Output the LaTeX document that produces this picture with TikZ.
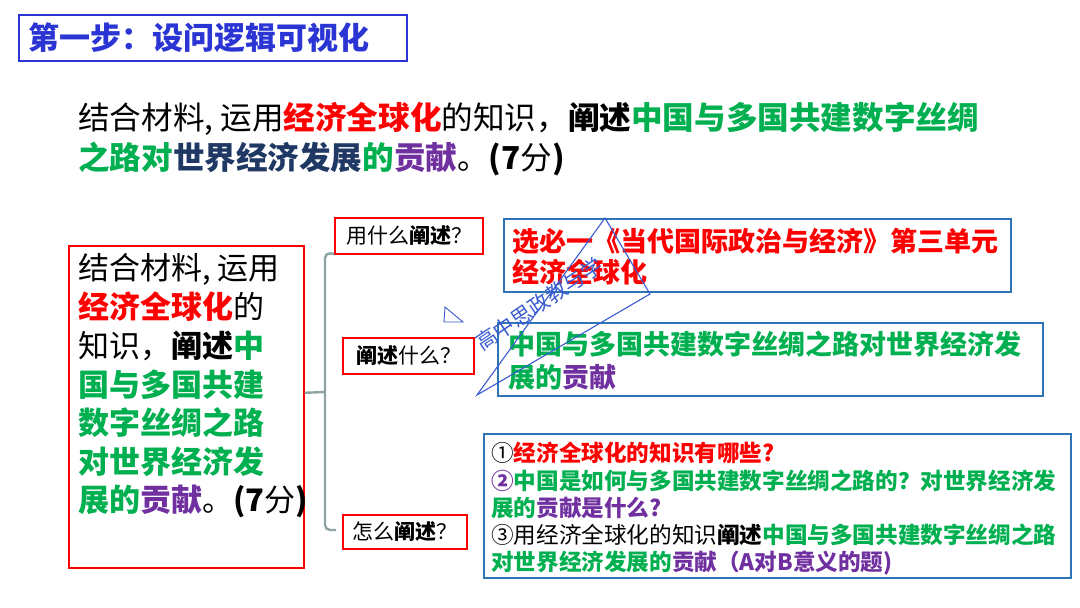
\documentclass[tikz,border=0pt]{standalone}
\usepackage{fontspec}
\setmainfont{Noto Sans CJK SC}
\definecolor{cred}{HTML}{FF0000}
\definecolor{cgreen}{HTML}{00B050}
\definecolor{cpurple}{HTML}{7030A0}
\definecolor{cnavy}{HTML}{1F3864}
\definecolor{ctitle}{HTML}{2B35D4}
\definecolor{cblue}{HTML}{2E75B6}
\definecolor{cgray}{HTML}{8FA3A3}
\definecolor{cwm}{HTML}{3A5CD0}
\newcommand{\fs}[1]{\fontsize{#1}{#1}\selectfont}
\newcommand{\R}[1]{{\bfseries\color{cred}#1}}
\newcommand{\G}[1]{{\bfseries\color{cgreen}#1}}
\newcommand{\Pu}[1]{{\bfseries\color{cpurple}#1}}
\newcommand{\Nv}[1]{{\bfseries\color{cnavy}#1}}
\newcommand{\Bk}[1]{{\bfseries #1}}
\begin{document}
\begin{tikzpicture}[x=1pt,y=-1pt,
  ln/.style={anchor=base west,inner sep=0pt,font=\fs{#1},yshift={-0.38*#1}},
  boxnode/.style={anchor=north west,inner sep=0pt},
  redbox/.style={boxnode,draw=cred,line width=1.6pt},
  bluebox/.style={boxnode,draw=cblue,line width=1.8pt},
  qbox/.style={draw=cred,line width=1.6pt,inner sep=0pt,font=\fs{21}},
  brk/.style={draw=cgray,line width=2.4pt,rounded corners=5pt},
  wm/.style={draw=cwm,line width=1.1pt}]
\useasboundingbox (0,0) rectangle (1080,608);
\fill[white] (0,0) rectangle (1080,608);

% title
\node[boxnode,draw=ctitle,line width=1.8pt,minimum width=388pt,minimum height=46pt] (title) at (18,14) {};
\node[ln=31,text=ctitle] (titletext) at (28,38) {\bfseries 第一步：设问逻辑可视化};

% question
\node[ln=31.6] (q1line) at (78,117) {结合材料, 运用\R{经济全球化}的知识，\Bk{阐述}\G{中国与多国共建数字丝绸}};
\node[ln=31.6] (q2line) at (78,157) {\G{之路对}\Nv{世界经济发展}\G{的}\Pu{贡献}。\Bk{(7}分\Bk{)}};

% left box
\node[redbox,minimum width=235pt,minimum height=322pt] (L) at (68,245) {};
\node[ln=31] (l1) at (78,268) {结合材料, 运用};
\node[ln=31] (l2) at (78,307) {\R{经济全球化}的};
\node[ln=31] (l3) at (78,346) {知识，\Bk{阐述}\G{中}};
\node[ln=31] (l4) at (78,385) {\G{国与多国共建}};
\node[ln=31] (l5) at (78,423) {\G{数字丝绸之路}};
\node[ln=31] (l6) at (78,462) {\G{对世界经济发}};
\node[ln=31] (l7) at (78,500) {\G{展的}\Pu{贡献}。\Bk{(7}分\Bk{)}};

% question boxes
\node[qbox,minimum width=148pt,minimum height=36pt] (qa) at (409,236) {用什么\Bk{阐述}？};
\node[qbox,minimum width=131pt,minimum height=36pt] (qb) at (408.5,356) {\Bk{阐述}什么？};
\node[qbox,minimum width=124pt,minimum height=34pt] (qc) at (405,532) {怎么\Bk{阐述}？};

% bracket
\coordinate (jn) at (325,392);
\draw[brk] ([yshift=14pt]L.east) -- (jn);
\draw[brk] ([yshift=1pt]qa.south west) -- (325,253) -- (325,530) -- ([xshift=-6pt,yshift=2pt]qc.west);

% blue boxes
\node[bluebox,minimum width=507pt,minimum height=73pt] (b1) at (503,218) {};
\node[ln=27] (b1l1) at (512,241) {\R{选必一《当代国际政治与经济》第三单元}};
\node[ln=27] (b1l2) at (512,272) {\R{经济全球化}};

\node[bluebox,minimum width=545pt,minimum height=73pt] (b2) at (497,322) {};
\node[ln=27] (b2l1) at (508,344) {\G{中国与多国共建数字丝绸之路对世界经济发}};
\node[ln=27] (b2l2) at (508,377) {\G{展的}\Pu{贡献}};

\node[bluebox,minimum width=587pt,minimum height=144pt] (b3) at (483,433) {};
\node[ln=22.6] (b3l1) at (491,453) {①\R{经济全球化的知识有哪些?}};
\node[ln=22.6] (b3l2) at (491,481) {\Pu{②}\G{中国是如何与多国共建数字丝绸之路的？对世界经济发}};
\node[ln=22.6] (b3l3) at (491,508) {\G{展的}\Pu{贡献是什么?}};
\node[ln=22.6] (b3l4) at (491,535) {③用经济全球化的知识\Bk{阐述}\G{中国与多国共建数字丝绸之路}};
\node[ln=22.6] (b3l5) at (491,562) {\G{对世界经济发展的}\Pu{贡献（A对B意义的题)}};

% watermark
\draw[wm] (605,218) -- (650,294) -- (477,395) -- cycle;
\draw[wm,line width=0.9pt] (445,307) -- (463,322) -- (444,322) -- cycle;
\node[rotate=34,text=cwm,font=\fs{21},inner sep=0pt] (wmtext) at (539,304) {高中思政教与学};
\end{tikzpicture}
\end{document}
